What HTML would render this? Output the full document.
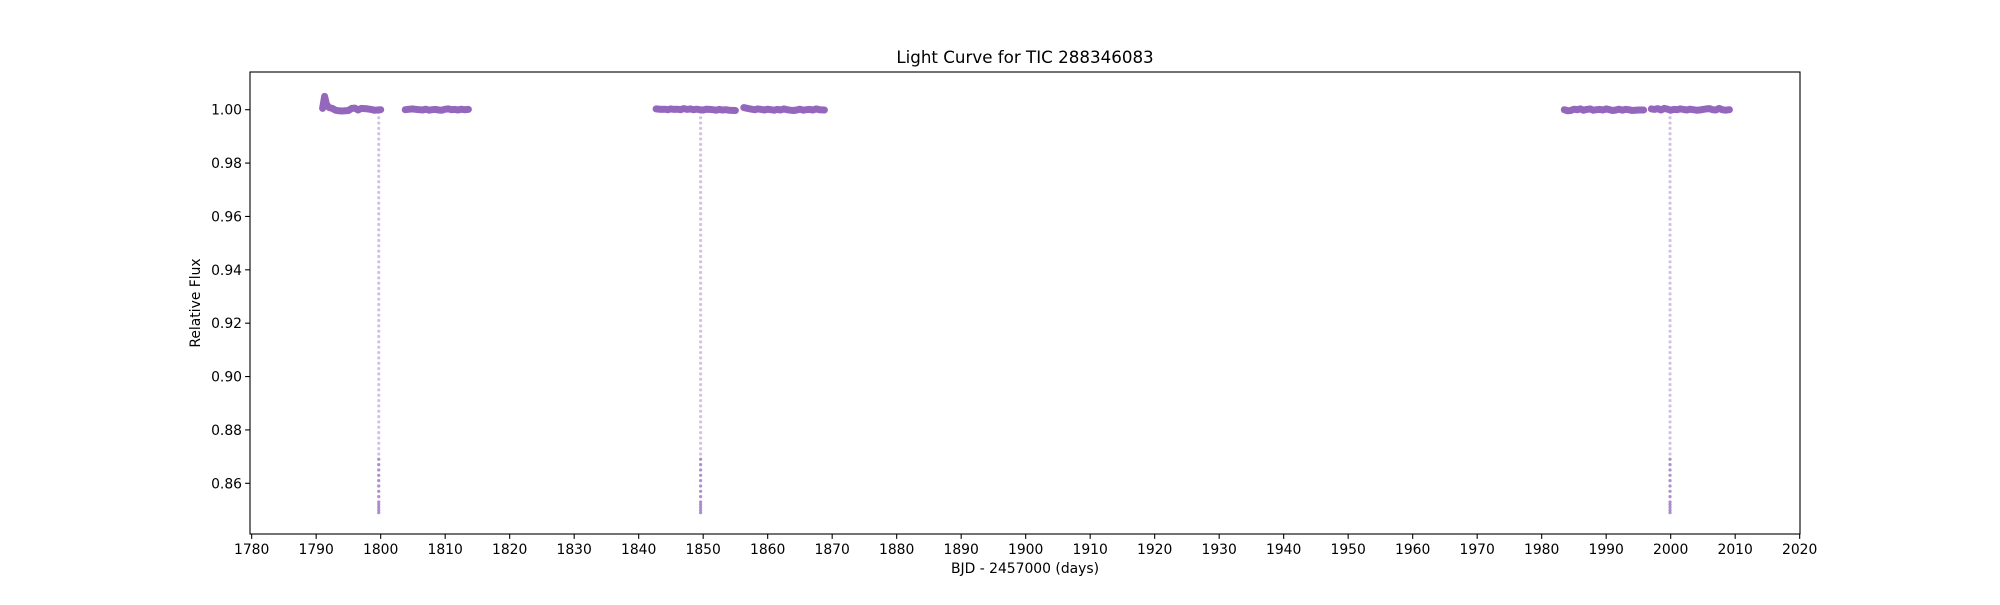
<!DOCTYPE html>
<html><head><meta charset="utf-8"><style>
body{margin:0;background:#fff;}
text{font-family:"DejaVu Sans","Liberation Sans",sans-serif;fill:#000;}
</style></head><body>
<svg id="chart" width="2000" height="600" xmlns="http://www.w3.org/2000/svg">
<rect width="2000" height="600" fill="#fff"/>
<text x="1025" y="63" font-size="16.7" text-anchor="middle">Light Curve for TIC 288346083</text>
<g id="xticks"></g>
<g id="yticks"></g>
<g id="marks"></g>
<rect x="250" y="72" width="1550" height="462" fill="none" stroke="#000" stroke-width="1.1"/>
<text x="1025" y="573" font-size="13.9" text-anchor="middle">BJD - 2457000 (days)</text>
<text x="0" y="0" font-size="13.9" text-anchor="middle" transform="translate(200,303) rotate(-90)">Relative Flux</text>
</svg>
<script>
const xTicks=[1780,1790,1800,1810,1820,1830,1840,1850,1860,1870,1880,1890,1900,1910,1920,1930,1940,1950,1960,1970,1980,1990,2000,2010,2020];
const yTicks=[0.86,0.88,0.90,0.92,0.94,0.96,0.98,1.00];
const seg1T=[1791.0,1791.3,1791.6,1792.0,1792.5,1793.0,1793.5,1794.0,1794.5,1795.0,1795.5,1796.0,1796.5,1797.0,1797.5,1798.0,1798.5,1799.0,1799.5,1800.0];
const seg1F=[1.0005,1.005,1.002,1.0008,1.0005,0.9998,0.9996,0.9995,0.9996,0.9997,1.0005,1.0006,0.9999,1.0005,1.0004,1.0003,1.0001,0.9998,0.9999,1.0000];
const seg2T=[1803.8,1804.5,1805.0,1805.5,1806.0,1806.5,1807.0,1807.5,1808.0,1808.5,1809.0,1809.5,1810.0,1810.5,1811.0,1811.5,1812.0,1812.5,1813.0,1813.6];
const seg2F=[1.0000,1.0002,1.0003,1.0001,1.0000,0.9999,1.0002,0.9998,1.0000,1.0001,0.9999,0.9998,1.0002,1.0003,1.0000,1.0001,0.9999,1.0002,1.0000,1.0001];
const seg3T=[1842.7,1843.5,1844.0,1844.5,1845.0,1845.5,1846.0,1846.5,1847.0,1847.5,1848.0,1848.5,1849.0,1849.5,1850.0,1850.5,1851.0,1851.5,1852.0,1852.5,1853.0,1853.5,1854.0,1855.0];
const seg3F=[1.0003,1.0001,1.0002,1.0000,1.0003,1.0001,1.0002,1.0000,1.0004,1.0001,1.0003,1.0000,1.0002,1.0000,0.9999,1.0002,1.0001,1.0000,0.9998,1.0001,0.9999,1.0000,0.9998,0.9997];
const seg4T=[1856.3,1857.0,1857.5,1858.0,1858.5,1859.0,1859.5,1860.0,1860.5,1861.0,1861.5,1862.0,1862.5,1863.0,1863.5,1864.0,1864.5,1865.0,1865.5,1866.0,1866.5,1867.0,1867.5,1868.0,1868.8];
const seg4F=[1.0008,1.0004,1.0002,1.0000,1.0003,1.0001,0.9999,1.0002,1.0000,0.9998,1.0001,0.9999,1.0003,1.0000,0.9998,0.9997,0.9999,1.0002,0.9998,1.0000,1.0001,0.9999,1.0003,1.0000,0.9999];
const seg5T=[1983.5,1984.0,1984.5,1985.0,1985.5,1986.0,1986.5,1987.0,1987.5,1988.0,1988.5,1989.0,1989.5,1990.0,1990.5,1991.0,1991.5,1992.0,1992.5,1993.0,1993.5,1994.0,1994.5,1995.0,1995.8];
const seg5F=[1.0000,0.9996,0.9997,1.0002,1.0000,1.0003,0.9998,1.0001,1.0003,0.9998,1.0000,1.0001,0.9999,1.0003,1.0000,0.9997,0.9999,1.0002,0.9998,1.0001,1.0000,0.9997,0.9998,0.9999,0.9999];
const seg6T=[1997.0,1997.5,1998.0,1998.5,1999.0,1999.5,2000.0,2000.5,2001.0,2001.5,2002.0,2002.5,2003.0,2003.5,2004.0,2004.5,2005.0,2005.5,2006.0,2006.5,2007.0,2007.5,2008.0,2008.5,2009.1];
const seg6F=[1.0003,1.0001,1.0004,0.9999,1.0005,1.0002,0.9998,1.0001,1.0000,1.0003,1.0001,0.9999,1.0002,1.0000,0.9998,0.9999,1.0001,1.0003,1.0004,1.0000,0.9999,1.0005,1.0000,0.9998,1.0000];
const transitT=[1799.7,1849.6,1999.9];
const transitF=[0.999,0.997,0.995,0.993,0.991,0.989,0.987,0.985,0.983,0.981,0.979,0.977,0.975,0.973,0.971,0.969,0.967,0.965,0.963,0.961,0.959,0.957,0.955,0.953,0.951,0.949,0.947,0.945,0.943,0.941,0.939,0.937,0.935,0.933,0.931,0.929,0.927,0.925,0.923,0.921,0.919,0.917,0.915,0.913,0.911,0.909,0.907,0.905,0.903,0.901,0.899,0.897,0.895,0.893,0.891,0.889,0.887,0.885,0.883,0.881,0.879,0.877,0.875,0.873,0.871,0.869,0.867,0.865,0.863,0.861,0.859,0.857,0.855,0.853,0.852,0.851,0.850,0.849];
const segT=[seg1T,seg2T,seg3T,seg4T,seg5T,seg6T];
const segF=[seg1F,seg2F,seg3F,seg4F,seg5F,seg6F];

const X0=1779.74,X1=2020.05,Y0=0.84100,Y1=1.01413;
const L=250,R=1800,T=72,B=534;
const sx=v=>L+(v-X0)/(X1-X0)*(R-L);
const sy=v=>B-(v-Y0)/(Y1-Y0)*(B-T);
const NS="http://www.w3.org/2000/svg";
function mk(tag,attrs,parent){const e=document.createElementNS(NS,tag);for(const k in attrs)e.setAttribute(k,attrs[k]);parent.appendChild(e);return e;}
const gx=document.getElementById('xticks'),gy=document.getElementById('yticks'),gm=document.getElementById('marks');
xTicks.forEach(t=>{const x=sx(t);
 const l=mk('line',{x1:x,x2:x,y1:B,y2:B+4.9,stroke:'#000','stroke-width':1.1},gx);
 
 
 const tx=mk('text',{x:x,y:B+20,'font-size':13.9,'text-anchor':'middle'},gx);tx.textContent=t;
 
 });
yTicks.forEach(t=>{const y=sy(t);
 const l=mk('line',{x1:L-4.9,x2:L,y1:y,y2:y,stroke:'#000','stroke-width':1.1},gy);
 
 
 const tx=mk('text',{x:L-8,y:y+5,'font-size':13.9,'text-anchor':'end'},gy);tx.textContent=t.toFixed(2);
 
 });
transitT.forEach(tt=>{transitF.forEach(f=>{
 const c=mk('circle',{cx:sx(tt),cy:sy(f),r:1.6,fill:'#9467bd','fill-opacity':f<0.87?0.75:0.4},gm);
 
 });});
segT.forEach((ts,i)=>{const fs=segF[i];
 const pts=ts.map((t,j)=>sx(t).toFixed(1)+','+sy(fs[j]).toFixed(1)).join(' ');
 const p=mk('polyline',{points:pts,fill:'none',stroke:'#9467bd','stroke-width':7,'stroke-linecap':'round','stroke-linejoin':'round'},gm);
 
 });
</script>
</body></html>
